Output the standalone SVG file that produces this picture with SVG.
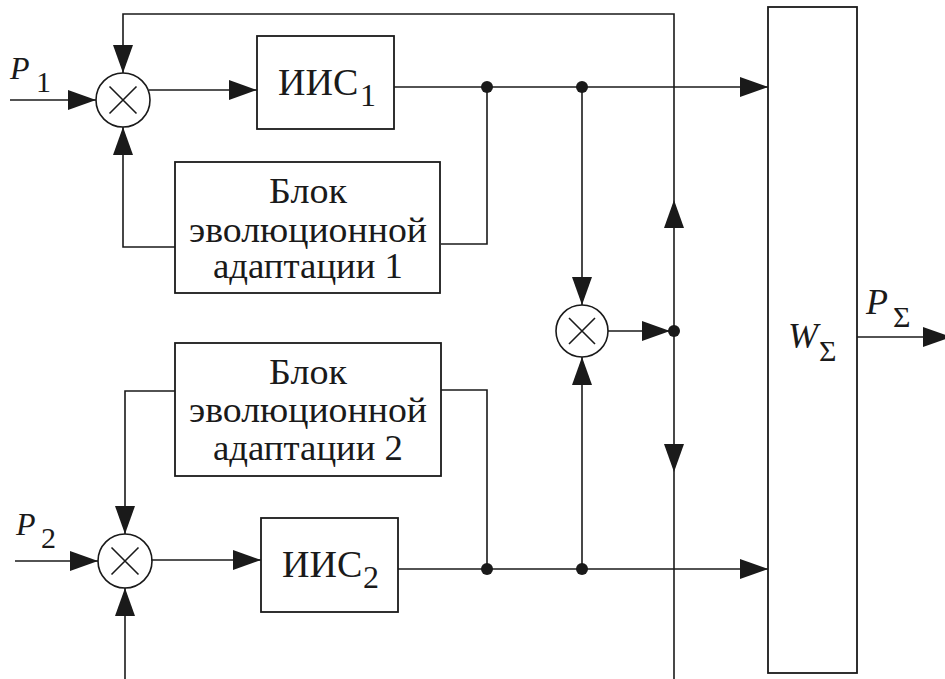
<svg xmlns="http://www.w3.org/2000/svg" width="945" height="679" viewBox="0 0 945 679">
<defs>
<style>
.ln{fill:none;stroke:#1a1a1a;stroke-width:1.6}
.bx{fill:#fff;stroke:#1a1a1a;stroke-width:1.8}
.dot{fill:#1a1a1a}
text{fill:#1a1a1a;font-family:"Times New Roman","Liberation Serif","DejaVu Serif",serif}
.it{font-style:italic}
.bt{font-size:35px;text-anchor:middle}
</style>
<marker id="ah" markerUnits="userSpaceOnUse" markerWidth="28" markerHeight="20" refX="28" refY="10" orient="auto" viewBox="0 0 28 20">
<path d="M0,0 L28,10 L0,20 z" fill="#1a1a1a"/>
</marker>
</defs>
<rect width="945" height="679" fill="#fff"/>

<g id="connectors">
<path class="ln" d="M10,100 L96,100" marker-end="url(#ah)"/>
<path class="ln" d="M674,331 L674,200" marker-end="url(#ah)"/>
<path class="ln" d="M674,200 L674,14 L123,14 L123,73" marker-end="url(#ah)"/>
<path class="ln" d="M674,331 L674,472" marker-end="url(#ah)"/>
<path class="ln" d="M674,472 L674,679"/>
<path class="ln" d="M149,90 L257,90" marker-end="url(#ah)"/>
<path class="ln" d="M394,87 L768,87" marker-end="url(#ah)"/>
<path class="ln" d="M487,87 L487,244 L441,244"/>
<path class="ln" d="M175,247 L123,247 L123,127" marker-end="url(#ah)"/>
<path class="ln" d="M582,87 L582,305" marker-end="url(#ah)"/>
<path class="ln" d="M608,331 L670,331" marker-end="url(#ah)"/>
<path class="ln" d="M398,569 L768,569" marker-end="url(#ah)"/>
<path class="ln" d="M582,569 L582,357" marker-end="url(#ah)"/>
<path class="ln" d="M487,569 L487,390 L441,390"/>
<path class="ln" d="M175,391 L125,391 L125,534" marker-end="url(#ah)"/>
<path class="ln" d="M15,561 L98,561" marker-end="url(#ah)"/>
<path class="ln" d="M151,560 L261,560" marker-end="url(#ah)"/>
<path class="ln" d="M125,679 L125,588" marker-end="url(#ah)"/>
<path class="ln" d="M857,337 L924,337"/>
<path d="M923,327 L951,337 L923,347 z" fill="#1a1a1a"/>
<circle class="dot" cx="487" cy="87" r="6"/>
<circle class="dot" cx="582" cy="87" r="6"/>
<circle class="dot" cx="487" cy="569" r="6"/>
<circle class="dot" cx="582" cy="569" r="6"/>
<circle class="dot" cx="674" cy="331" r="6"/>
</g>

<g id="sum1">
<circle class="ln" cx="123" cy="100" r="27"/>
<path class="ln" d="M109.5,86.5 L136.5,113.5 M136.5,86.5 L109.5,113.5"/>
</g>
<g id="sum2">
<circle class="ln" cx="125" cy="561" r="27"/>
<path class="ln" d="M111.5,547.5 L138.5,574.5 M138.5,547.5 L111.5,574.5"/>
</g>
<g id="sum3">
<circle class="ln" cx="582" cy="331" r="26"/>
<path class="ln" d="M569,318 L595,344 M595,318 L569,344"/>
</g>

<g id="iis1">
<rect class="bx" x="257" y="36" width="137" height="93"/>
<text x="278" y="95" font-size="38">ИИС</text>
<text x="360" y="106" font-size="32">1</text>
</g>
<g id="iis2">
<rect class="bx" x="261" y="518" width="137" height="94"/>
<text x="282" y="577" font-size="38">ИИС</text>
<text x="363" y="588" font-size="32">2</text>
</g>

<g id="block1">
<rect class="bx" x="175" y="162" width="265" height="131"/>
<text class="bt" x="308" y="203" textLength="78" lengthAdjust="spacingAndGlyphs">Блок</text>
<text class="bt" x="308" y="242" textLength="238" lengthAdjust="spacingAndGlyphs">эволюционной</text>
<text class="bt" x="308" y="278" textLength="190" lengthAdjust="spacingAndGlyphs">адаптации 1</text>
</g>
<g id="block2">
<rect class="bx" x="175" y="343" width="266" height="133"/>
<text class="bt" x="308" y="384" textLength="78" lengthAdjust="spacingAndGlyphs">Блок</text>
<text class="bt" x="308" y="422" textLength="238" lengthAdjust="spacingAndGlyphs">эволюционной</text>
<text class="bt" x="308" y="460" textLength="190" lengthAdjust="spacingAndGlyphs">адаптации 2</text>
</g>

<g id="wsum">
<rect class="bx" x="768" y="7" width="89" height="666"/>
<text class="it" x="788" y="348" font-size="36">W</text>
<text x="819" y="361" font-size="30">Σ</text>
</g>

<g id="labels">
<text class="it" x="10" y="79" font-size="32">P</text>
<text x="36" y="92" font-size="30">1</text>
<text class="it" x="16" y="535" font-size="32">P</text>
<text x="41" y="548" font-size="30">2</text>
<text class="it" x="866" y="314" font-size="36">P</text>
<text x="893" y="327" font-size="30">Σ</text>
</g>
</svg>
